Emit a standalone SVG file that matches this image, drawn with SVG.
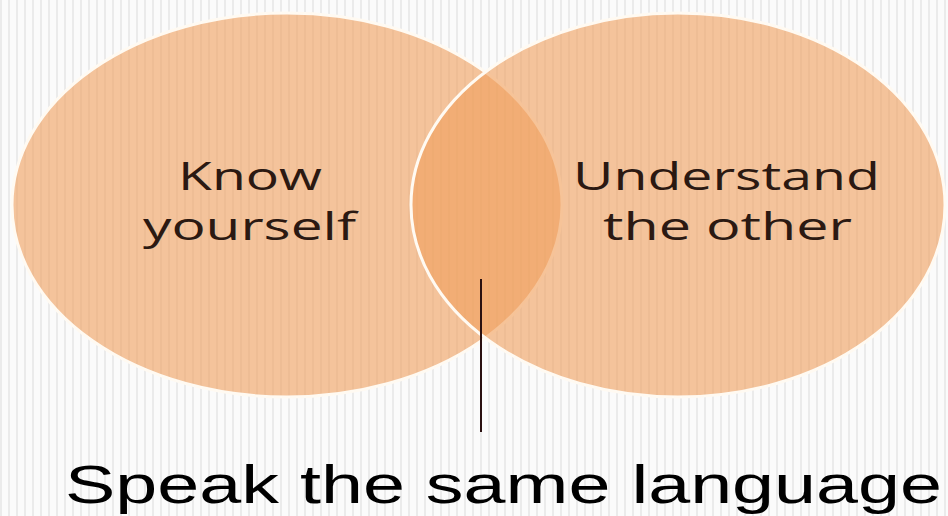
<svg xmlns="http://www.w3.org/2000/svg" width="948" height="516" viewBox="0 0 948 516">
<defs>
<pattern id="stripes" x="0" y="0" width="8" height="16" patternUnits="userSpaceOnUse">
<rect x="0" y="0" width="8" height="16" fill="#fbfbfb"/>
<rect x="0" y="0" width="2" height="16" fill="#ebebeb"/>
</pattern>
</defs>
<style>
.circle { fill: #f09e5c; fill-opacity: 0.6; stroke: #fffaf2; stroke-width: 3; }
.lbl { font-family: "Open Sans", "Noto Sans", sans-serif; font-size: 39px; fill: #2b1912; text-anchor: start; }
.caption { font-family: "Liberation Sans", Arial, sans-serif; font-size: 53px; fill: #000; }
.conn { stroke: #2a1010; stroke-width: 2; fill: none; }
</style>
<rect x="0" y="0" width="948" height="516" fill="url(#stripes)"/>
<g id="know-yourself">
<ellipse class="circle" cx="287" cy="205" rx="275" ry="192"/>
<text class="lbl" x="178" y="190" textLength="144" lengthAdjust="spacingAndGlyphs">Know</text>
<text class="lbl" x="143" y="240" textLength="213" lengthAdjust="spacingAndGlyphs">yourself</text>
</g>
<g id="understand-the-other">
<ellipse class="circle" cx="678" cy="205" rx="267" ry="192"/>
<text class="lbl" x="573" y="190" textLength="307" lengthAdjust="spacingAndGlyphs">Understand</text>
<text class="lbl" x="603" y="240" textLength="249" lengthAdjust="spacingAndGlyphs">the other</text>
</g>
<g id="connectors">
<line class="conn" x1="481" y1="279" x2="481" y2="432"/>
</g>
<g id="speak-the-same-language">
<text class="caption" x="65" y="503" textLength="877" lengthAdjust="spacingAndGlyphs">Speak the same language</text>
</g>
</svg>
